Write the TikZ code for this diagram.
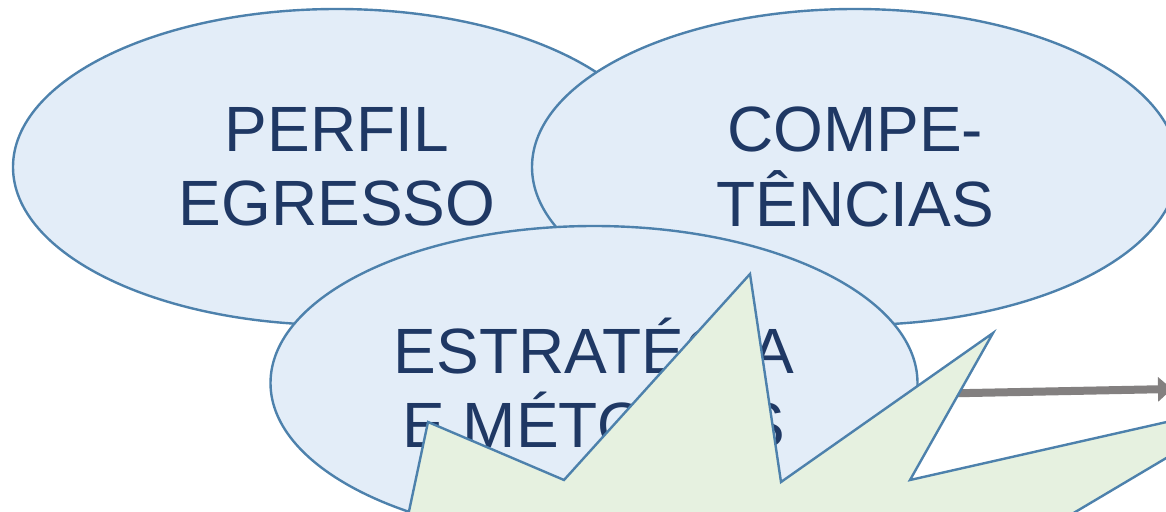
\documentclass[tikz,border=0pt]{standalone}
\usepackage{fontspec}
\setmainfont{Liberation Sans}
\usetikzlibrary{shapes.geometric,arrows.meta,calc}
\definecolor{txtblue}{HTML}{1F3864}
\definecolor{ellfill}{HTML}{E3EDF8}
\definecolor{ellline}{HTML}{4D81AC}
\definecolor{burstfill}{HTML}{E6F1E0}
\definecolor{arrgray}{HTML}{838080}
\begin{document}
\begin{tikzpicture}[x=1pt,y=-1pt,
  bubble/.style={ellipse,draw=ellline,fill=ellfill,line width=2.4pt,inner sep=0pt,
    text=txtblue,align=center,font=\fontsize{64}{74.5}\selectfont},
  burst/.style={draw=ellline,fill=burstfill,line width=2.4pt,line join=miter},
  bigarrow/.style={draw=arrgray,line width=8pt,-{Triangle[length=14pt,width=24pt]}}]
\useasboundingbox (0,0) rectangle (1166,511);
\clip (0,0) rectangle (1166,511);
\node[bubble,minimum width=648pt,minimum height=316pt] (perfil) at (337,167) {PERFIL\\EGRESSO};
\node[bubble,minimum width=646pt,minimum height=316pt] (comp) at (855,167) {COMPE-\\TÊNCIAS};
\node[bubble,minimum width=647pt,minimum height=314pt] (estr) at (594,383) {ESTRATÉGIA\\E MÉTODOS};
\coordinate (tip) at (1172,389);
\draw[bigarrow] ($(estr.east)+(0,11)$) -- (tip);
\path[burst] (405,530) -- (428,422) -- (564,480) -- (750,274) -- (781,482) -- (993,333)
  -- (910,480) -- (1264,400) -- (1050,527) -- (1050,540) -- (405,540) -- cycle;
\end{tikzpicture}
\end{document}
